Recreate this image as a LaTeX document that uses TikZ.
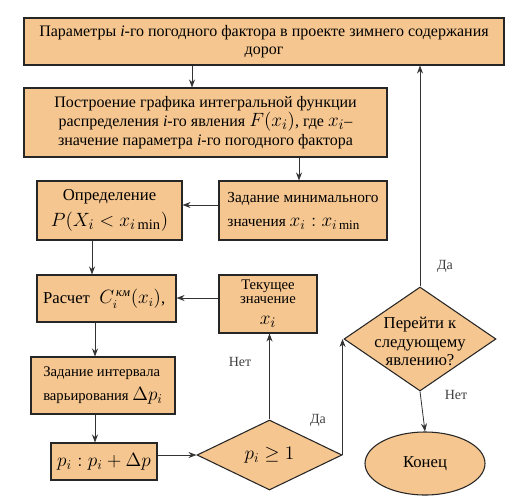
\documentclass[tikz,border=0pt]{standalone}
\usepackage{amsmath}
\usepackage{fontspec}
\setmainfont[Ligatures=TeX]{Liberation Serif}
\newfontfamily\serifru{Liberation Serif}
\usetikzlibrary{shapes.geometric,arrows.meta}
\definecolor{boxfill}{RGB}{245,198,144}
\begin{document}
\begin{tikzpicture}[x=0.75pt,y=-0.75pt,
 every node/.style={font=\serifru},
 blk/.style={draw=black!85,line width=0.8pt,fill=boxfill,rectangle,inner sep=2pt},
 dia/.style={draw=black!85,line width=0.8pt,fill=boxfill,diamond,inner sep=0pt},
 arr/.style={-{Stealth[length=6pt,width=4.5pt]},line width=0.6pt,draw=black!80},
 lbl/.style={font=\serifru\fontsize{10.5}{12}\selectfont,text=black!75},
 big/.style={font=\serifru\fontsize{14}{16}\selectfont}]
\useasboundingbox (0,0) rectangle (520,503);

\node[blk,minimum width=360pt,minimum height=35.25pt,align=center,font=\serifru\fontsize{12}{13.5}\selectfont] (b1) at (264,41.5)
 {Параметры \textit{i}-го погодного фактора в проекте зимнего содержания\\дорог};
\node[blk,minimum width=272.25pt,minimum height=51.75pt,align=center,font=\serifru\fontsize{12}{14}\selectfont] (b2) at (205.5,122.5)
 {Построение графика интегральной функции\\распределения \textit{i}-го явления {\fontsize{15}{14}\selectfont$F(x_i)$}, где {\fontsize{15}{14}\selectfont$x_i$}–\\значение параметра \textit{i}-го погодного фактора};
\node[blk,minimum width=126pt,minimum height=44.25pt,align=left,font=\serifru\fontsize{11.5}{18}\selectfont] (b3) at (303,210.5)
 {Задание минимального\\значения {\fontsize{14}{14}\selectfont$x_i : x_{i\,\mathrm{min}}$}};
\node[blk,minimum width=108.75pt,minimum height=44.25pt,align=center,font=\serifru\fontsize{12.5}{19}\selectfont] (b4) at (109.5,210.5)
 {Определение\\{\fontsize{15.5}{18}\selectfont$P(X_i<x_{i\,\mathrm{min}})$}};
\node[blk,minimum width=104.25pt,minimum height=35.25pt,align=center,font=\serifru\fontsize{12.5}{14}\selectfont] (b5) at (106.5,298.5)
 {Расчет\hspace{7pt}{\fontsize{13.5}{14}\selectfont$C_i^{\,\text{\itshape км}}(x_i)$},\;};
\node[blk,minimum width=73.5pt,minimum height=43.5pt,align=center,font=\serifru\fontsize{11}{10.5}\selectfont] (b6) at (268,304)
 {Текущее\\значение\\[5pt]{\fontsize{15}{14}\selectfont$x_i$}};
\node[blk,minimum width=108pt,minimum height=42.75pt,align=left,font=\serifru\fontsize{11}{18}\selectfont] (b7) at (103,385.5)
 {Задание интервала\\варьирования {\fontsize{14}{14}\selectfont$\Delta p_i$}};
\node[blk,minimum width=79.5pt,minimum height=27.75pt,align=center,big] (b8) at (104,461.5)
 {$p_i : p_i+\Delta p$};
\node[dia,minimum width=108.75pt,minimum height=52.5pt,label={[big]center:$p_i \ge 1$}] (d1) at (269.5,455) {};
\node[dia,minimum width=114pt,minimum height=78pt,label={[align=center,font=\serifru\fontsize{12.5}{14}\selectfont,yshift=-2pt]center:Перейти к\\следующему\\явлению?}] (d2) at (420,339) {};
\node[draw=black!85,line width=0.8pt,fill=boxfill,ellipse,minimum width=90pt,minimum height=47.25pt,inner sep=0pt,font=\serifru\fontsize{12.5}{14}\selectfont] (e) at (425,463.5) {Конец};

\draw[arr] (b1.south -| 192,0) -- (b2.north -| 192,0);
\draw[arr] (b2.south -| 299,0) -- (b3.north -| 299,0);
\draw[arr] (b3.west |- 0,205) -- (b4.east |- 0,205);
\draw[arr] (b4.south -| 92,0) -- (b5.north -| 92,0);
\draw[arr] (b6.west |- 0,298) -- (b5.east |- 0,298);
\draw[arr] (b5.south -| 95,0) -- (b7.north -| 95,0);
\draw[arr] (b7.south -| 95,0) -- (b8.north -| 95,0);
\draw[arr] (b8.east |- d1.west) -- (d1.west);
\draw[arr] (d1.north) -- (b6.south -| d1.north);
\draw[arr] (d1.east) -- (d1.east |- d2.west);
\draw[arr] (d2.north) -- (b1.south -| d2.north);
\draw[arr] (d2.south) -- (e.north);

\node[lbl] (l1) at (240,362) {Нет};
\node[lbl] (l2) at (318,420) {Да};
\node[lbl] (l3) at (445,266) {Да};
\node[lbl] (l4) at (456,395) {Нет};
\end{tikzpicture}
\end{document}
